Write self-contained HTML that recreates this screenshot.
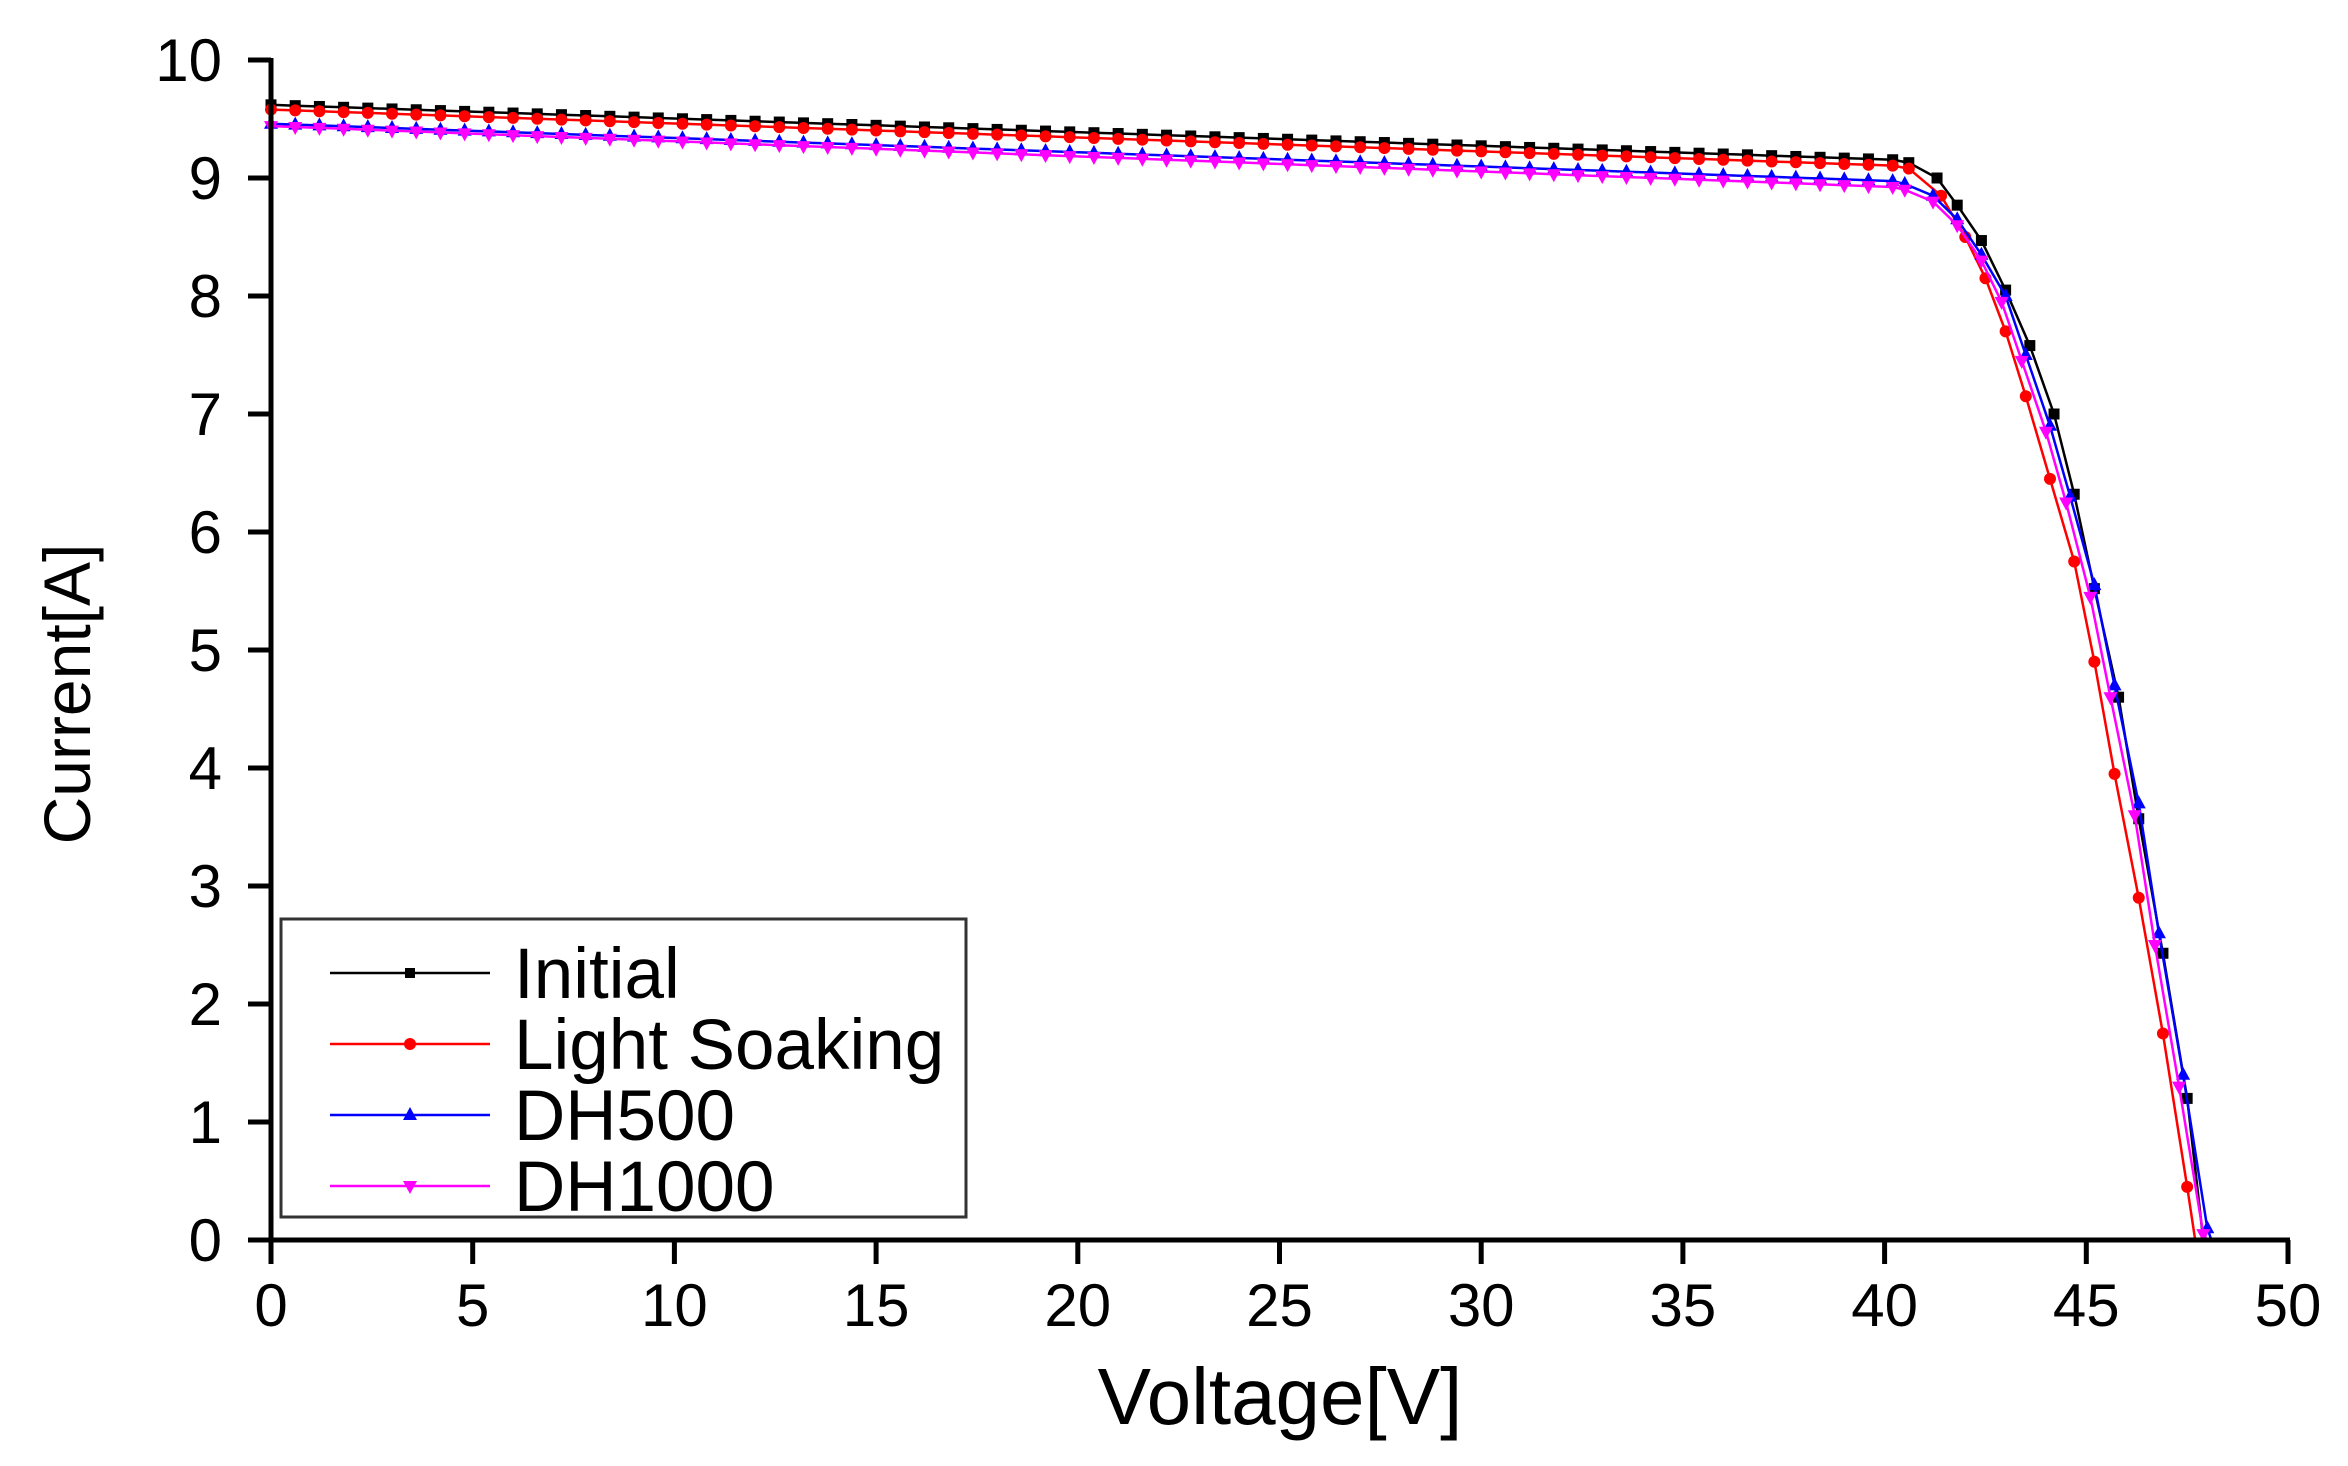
<!DOCTYPE html>
<html><head><meta charset="utf-8"><style>
html,body{margin:0;padding:0;background:#fff;}
svg{display:block;font-family:"Liberation Sans",Arial,sans-serif;}
</style></head><body>
<svg id="s" width="2348" height="1466" viewBox="0 0 2348 1466" xmlns="http://www.w3.org/2000/svg">
<rect width="2348" height="1466" fill="#fff"/>
<g id="plot"></g>
<g stroke="#000" stroke-width="5" fill="none">
<line x1="271" y1="58" x2="271" y2="1242"/>
<line x1="269" y1="1240" x2="2290" y2="1240"/>
</g>
<g id="ticks" stroke="#000" stroke-width="5"></g>
<g id="labels" font-size="60" fill="#000"></g>
<text x="1280" y="1424" font-size="80" text-anchor="middle">Voltage[V]</text>
<text transform="translate(90,694) rotate(-90)" font-size="66" text-anchor="middle">Current[A]</text>
<rect x="281" y="919" width="685" height="298" fill="#fff" stroke="#333" stroke-width="3"/>
<g font-size="71" fill="#000">
<line x1="330" y1="973" x2="490" y2="973" stroke="#000" stroke-width="2.5"/><rect x="405" y="968" width="10" height="10" fill="#000"/>
<text x="514" y="998">Initial</text>
<line x1="330" y1="1044" x2="490" y2="1044" stroke="#f00" stroke-width="2.5"/><circle cx="410" cy="1044" r="6" fill="#f00"/>
<text x="514" y="1069">Light Soaking</text>
<line x1="330" y1="1115" x2="490" y2="1115" stroke="#00f" stroke-width="2.5"/><polygon points="410,1107 403,1120 417,1120" fill="#00f"/>
<text x="514" y="1140">DH500</text>
<line x1="330" y1="1186" x2="490" y2="1186" stroke="#f0f" stroke-width="2.5"/><polygon points="410,1194 403,1181 417,1181" fill="#f0f"/>
<text x="514" y="1211">DH1000</text>
</g>
</svg>
<script>
var X=v=>271+v*40.34, Y=i=>1240-i*118;
var ns="http://www.w3.org/2000/svg";
function el(t,a,p){var e=document.createElementNS(ns,t);for(var k in a)e.setAttribute(k,a[k]);(p||document.getElementById('plot')).appendChild(e);return e;}
var tk=document.getElementById('ticks'),lb=document.getElementById('labels');
for(var i=0;i<=10;i++){var y=Y(i);el('line',{x1:248,y1:y,x2:271,y2:y},tk);var t=el('text',{x:222,y:y+21,'text-anchor':'end'},lb);t.textContent=i;}
for(var v=0;v<=50;v+=5){var x=X(v);el('line',{x1:x,y1:1240,x2:x,y2:1264},tk);var t=el('text',{x:x,y:1326,'text-anchor':'middle'},lb);t.textContent=v;}
var S=[
{c:'#000',m:'sq',a:9.62,b:9.15,k:40.6,d:[[40.6,9.13],[41.3,9.0],[41.8,8.77],[42.4,8.47],[43,8.05],[43.6,7.58],[44.2,7.0],[44.7,6.32],[45.2,5.52],[45.8,4.6],[46.3,3.57],[46.9,2.43],[47.5,1.2],[47.9,0]]},
{c:'#f00',m:'ci',a:9.58,b:9.1,k:40.6,d:[[40.6,9.08],[41.4,8.85],[42,8.5],[42.5,8.15],[43,7.7],[43.5,7.15],[44.1,6.45],[44.7,5.75],[45.2,4.9],[45.7,3.95],[46.3,2.9],[46.9,1.75],[47.5,0.45],[47.7,0]]},
{c:'#00f',m:'up',a:9.46,b:8.97,k:40.5,d:[[40.5,8.95],[41.2,8.85],[41.8,8.65],[42.4,8.35],[43,8.0],[43.5,7.5],[44.1,6.9],[44.6,6.3],[45.2,5.55],[45.7,4.7],[46.3,3.7],[46.8,2.6],[47.4,1.4],[48,0.1],[48.1,0]]},
{c:'#f0f',m:'dn',a:9.44,b:8.92,k:40.5,d:[[40.5,8.9],[41.2,8.8],[41.8,8.6],[42.4,8.3],[42.9,7.95],[43.4,7.45],[44,6.85],[44.5,6.25],[45.1,5.45],[45.6,4.6],[46.2,3.6],[46.7,2.5],[47.3,1.3],[47.9,0.05],[48.0,0]]}
];
S.forEach(function(s){
 var pts=[];
 for(var v=0;v<s.k-0.01;v+=0.6){pts.push([v,s.a+(s.b-s.a)*v/s.k]);}
 pts=pts.concat(s.d);
 el('polyline',{points:pts.map(p=>X(p[0]).toFixed(1)+','+Y(p[1]).toFixed(1)).join(' '),fill:'none',stroke:s.c,'stroke-width':2.5});
 pts.forEach(function(p){var x=X(p[0]),y=Y(p[1]);
  if(p[1]<=0)return;
  if(s.m=='sq')el('rect',{x:x-5.5,y:y-5.5,width:11,height:11,fill:s.c});
  else if(s.m=='ci')el('circle',{cx:x,cy:y,r:6,fill:s.c});
  else if(s.m=='up')el('polygon',{points:(x)+','+(y-8)+' '+(x-7)+','+(y+5)+' '+(x+7)+','+(y+5),fill:s.c});
  else el('polygon',{points:(x)+','+(y+8)+' '+(x-7)+','+(y-5)+' '+(x+7)+','+(y-5),fill:s.c});
 });
});
</script>
</body></html>
